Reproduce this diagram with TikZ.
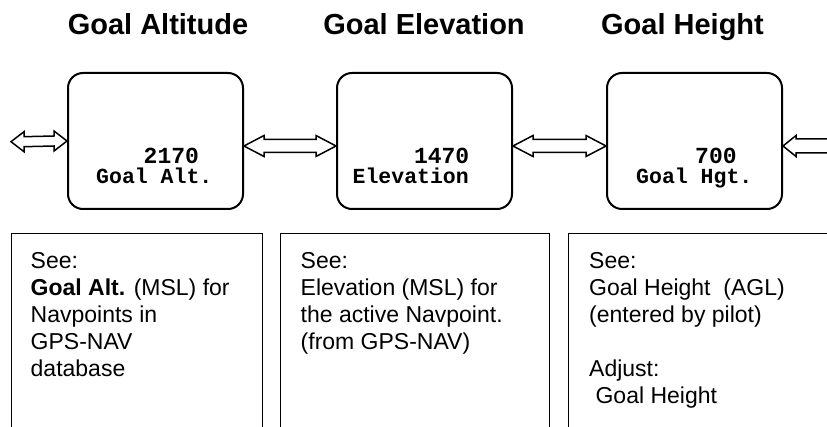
\documentclass[tikz,border=0pt]{standalone}
\usepackage{fontspec}
\setmainfont{Liberation Sans}
\newfontfamily\monofont{Liberation Mono}
\usetikzlibrary{calc}
\tikzset{
  rbox/.style={draw, line width=2pt, rounded corners=15pt, minimum width=175pt, minimum height=136pt, inner sep=0pt},
  title/.style={font=\fontsize{29}{34}\selectfont\bfseries, anchor=base, inner sep=0pt},
  numtxt/.style={font=\monofont\bfseries\fontsize{23}{26}\selectfont, inner sep=0pt, text depth=0pt},
  labtxt/.style={font=\monofont\bfseries\fontsize{21.5}{24}\selectfont, inner sep=0pt, text height=12pt},
  body/.style={font=\fontsize{23}{27}\selectfont, anchor=base west, inner sep=0pt},
  panel/.style={draw, line width=1.2pt, anchor=north west, inner sep=0pt, minimum height=230pt},
  dbl/.style={draw, line width=1.5pt, fill=white, line join=miter},
}
\newcommand{\DblArrowPath}[5]{%
  \draw[dbl] let \p1=(#1), \p2=(#2) in
  (\x1,\y1) -- (\x1+#3,\y1+#5) -- (\x1+#3,\y1+#4) -- (\x2-#3,\y2+#4) -- (\x2-#3,\y2+#5)
  -- (\x2,\y2) -- (\x2-#3,\y2-#5) -- (\x2-#3,\y2-#4) -- (\x1+#3,\y1-#4) -- (\x1+#3,\y1-#5) -- cycle;}
\begin{document}
\begin{tikzpicture}[x=1pt, y=-1pt]
\clip (0,0) rectangle (827,427);
\fill[white] (0,0) rectangle (827,427);
% titles
\node[title] (t1) at (158,35) {Goal Altitude};
\node[title] (t2) at (424,35) {Goal Elevation};
\node[title] (t3) at (682.5,35) {Goal Height};
% rounded boxes
\node[rbox] (b1) at (155.5,141) {};
\node[rbox] (b2) at (424.5,141) {};
\node[rbox] (b3) at (694.5,141) {};
% box texts
\node[numtxt, anchor=base west] (n1) at (143.5,164) {2170};
\node[labtxt, anchor=base west] (l1) at (96,184) {Goal Alt.};
\node[numtxt, anchor=base east] (n2) at (469.5,164) {1470};
\node[labtxt, anchor=base east] (l2) at (469,184) {Elevation};
\node[numtxt, anchor=base west] (n3) at (695,164) {700};
\node[labtxt, anchor=base west] (l3) at (636,184) {Goal Hgt.};
% arrows
\coordinate (la) at (11,141.7);
\coordinate (ra) at (870,146);
\DblArrowPath{la}{b1.west}{13pt}{5pt}{10pt}
\DblArrowPath{[yshift=-5pt]b1.east}{[yshift=-5pt]b2.west}{20pt}{6.5pt}{10.5pt}
\DblArrowPath{[yshift=-5pt]b2.east}{[yshift=-5pt]b3.west}{20pt}{6.5pt}{10.5pt}
\DblArrowPath{[yshift=-5pt]b3.east}{ra}{13pt}{7pt}{10.5pt}
% panels
\node[panel, minimum width=251pt] (p1) at (11,233) {};
\node[panel, minimum width=269pt] (p2) at (280,233) {};
\node[panel, minimum width=300pt] (p3) at (568,233) {};
% panel texts
\node[body] (p1a) at (30.5,268.5) {See:};
\node[body] (p1b) at (30.5,295.5) {\textbf{Goal Alt.} (MSL) for};
\node[body] (p1c) at (30.5,322.5) {Navpoints in};
\node[body] (p1d) at (30.5,349.5) {GPS-NAV};
\node[body] (p1e) at (30.5,376.5) {database};
\node[body] (p2a) at (300.5,268.5) {See:};
\node[body] (p2b) at (300.5,295.5) {Elevation (MSL) for};
\node[body] (p2c) at (300.5,322.5) {the active Navpoint.};
\node[body] (p2d) at (300.5,349.5) {(from GPS-NAV)};
\node[body] (p3a) at (589,268.5) {See:};
\node[body] (p3b) at (589,295.5) {Goal Height\ \ (AGL)};
\node[body] (p3c) at (589,322.5) {(entered by pilot)};
\node[body] (p3d) at (589,376.5) {Adjust:};
\node[body] (p3e) at (589,403.5) {\hspace*{0.278em}Goal Height};
\end{tikzpicture}
\end{document}
